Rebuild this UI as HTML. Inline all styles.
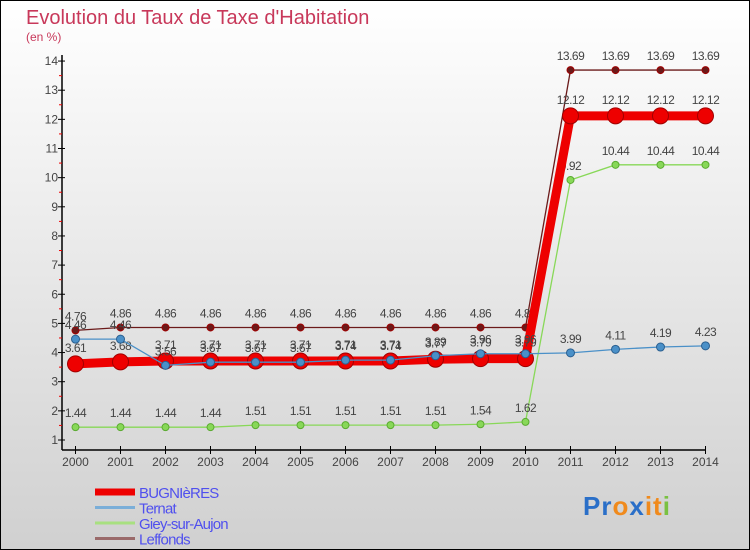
<!DOCTYPE html>
<html><head><meta charset="utf-8"><style>
html,body{margin:0;padding:0}
body{width:750px;height:550px;overflow:hidden;font-family:"Liberation Sans",sans-serif}
</style></head><body>
<svg id="chart" width="750" height="550" xmlns="http://www.w3.org/2000/svg" style="display:block">
<defs><linearGradient id="bg" x1="0" y1="0" x2="0" y2="1"><stop offset="0" stop-color="#ffffff"/><stop offset="1" stop-color="#d0d0d0"/></linearGradient></defs>
<rect x="0.5" y="0.5" width="749" height="549" fill="url(#bg)" stroke="#000"/>
<text x="26" y="24" font-size="20" fill="#c8385a" style="font-weight:300">Evolution du Taux de Taxe d'Habitation</text>
<text x="26" y="41" font-size="12" fill="#c8385a">(en %)</text>
<g id="axes"></g><g id="series"></g><g id="legend"></g>
<text x="583" y="515" font-size="26" font-weight="bold" letter-spacing="1"><tspan fill="#2a6fc8">Pr</tspan><tspan fill="#f08a1c">o</tspan><tspan fill="#2a6fc8">x</tspan><tspan fill="#f08a1c">it</tspan><tspan fill="#7ac142">i</tspan></text>
</svg>
<script>
const years=[2000,2001,2002,2003,2004,2005,2006,2007,2008,2009,2010,2011,2012,2013,2014];
const yTicks=[1,2,3,4,5,6,7,8,9,10,11,12,13,14];
const seriesNames=["BUGNIèRES","Ternat","Giey-sur-Aujon","Leffonds"];
const bugnieres=[3.61,3.68,3.71,3.71,3.71,3.71,3.71,3.71,3.77,3.79,3.79,12.12,12.12,12.12,12.12];
const ternat=[4.46,4.46,3.56,3.67,3.67,3.67,3.74,3.74,3.89,3.96,3.96,3.99,4.11,4.19,4.23];
const giey=[1.44,1.44,1.44,1.44,1.51,1.51,1.51,1.51,1.51,1.54,1.62,9.92,10.44,10.44,10.44];
const leffonds=[4.76,4.86,4.86,4.86,4.86,4.86,4.86,4.86,4.86,4.86,4.86,13.69,13.69,13.69,13.69];
const NS="http://www.w3.org/2000/svg";
function X(i){return 75.5+i*45;}
function Y(v){return 440-(v-1)*29.15;}
function mk(tag,attrs,parent,text){const e=document.createElementNS(NS,tag);for(const k in attrs)e.setAttribute(k,attrs[k]);if(text!==undefined)e.textContent=text;parent.appendChild(e);return e;}
const axes=document.getElementById('axes');
let e=mk('line',{x1:62,y1:55,x2:62,y2:450,stroke:'#000','stroke-width':1.5},axes);


e=mk('line',{x1:62,y1:450,x2:706,y2:450,stroke:'#000','stroke-width':1.5},axes);


yTicks.forEach(t=>{
  mk('line',{x1:58,y1:Y(t),x2:65,y2:Y(t),stroke:'#000'},axes);
  if(t<14)mk('line',{x1:59,y1:Y(t+0.5),x2:62,y2:Y(t+0.5),stroke:'#e00'},axes);
  const l=mk('text',{x:58,y:Y(t)+4,'font-size':12,fill:'#444','text-anchor':'end'},axes,t);
  
  
});
years.forEach((y,i)=>{
  mk('line',{x1:X(i),y1:446,x2:X(i),y2:454,stroke:'#000'},axes);
  const l=mk('text',{x:X(i),y:466,'font-size':12,fill:'#444','text-anchor':'middle'},axes,y);
  
  
});
const sg=document.getElementById('series');
const defs=[
 {d:leffonds,c:'#6b1a1a',w:1.3,r:3.5,name:'leffonds-series'},
 {d:giey,c:'#88d858',w:1.3,r:3.5,stroke:'#5aaa30',name:'giey-series'},
 {d:bugnieres,c:'#ee0000',w:9,r:8,name:'bugnieres-series'},
 {d:ternat,c:'#4a90c8',w:1.3,r:4,stroke:'#2a5f90',name:'ternat-series'}
];
defs.forEach(s=>{
  const g=mk('g',{},sg);
  
  
  mk('polyline',{points:s.d.map((v,i)=>X(i)+','+Y(v)).join(' '),fill:'none',stroke:s.c,'stroke-width':s.w},g);
  s.d.forEach((v,i)=>{
    const p=mk('circle',{cx:X(i),cy:Y(v),r:s.r,fill:s.c,stroke:s.stroke||'#a00000','stroke-width':1},g);
    
    
    const t=mk('text',{x:X(i),y:Y(v)-(s.r>5?12:10),'font-size':12,fill:'#444','text-anchor':'middle','letter-spacing':'-0.5'},g,v.toFixed(2));
    
    
  });
});
const lg=document.getElementById('legend');
const lc=['#ee0000','#7aaed8','#a8e080','#9a6a6a'];const lw=[7,3,3,3];
seriesNames.forEach((n,i)=>{
  const yy=492+i*15.5;
  const g=mk('g',{},lg);
  
  
  mk('line',{x1:95,y1:yy,x2:135,y2:yy,stroke:lc[i],'stroke-width':lw[i]},g);
  mk('text',{x:139,y:yy+6,'font-size':15,fill:'#5050ee','letter-spacing':'-0.8'},g,n);
});
</script>
</body></html>
